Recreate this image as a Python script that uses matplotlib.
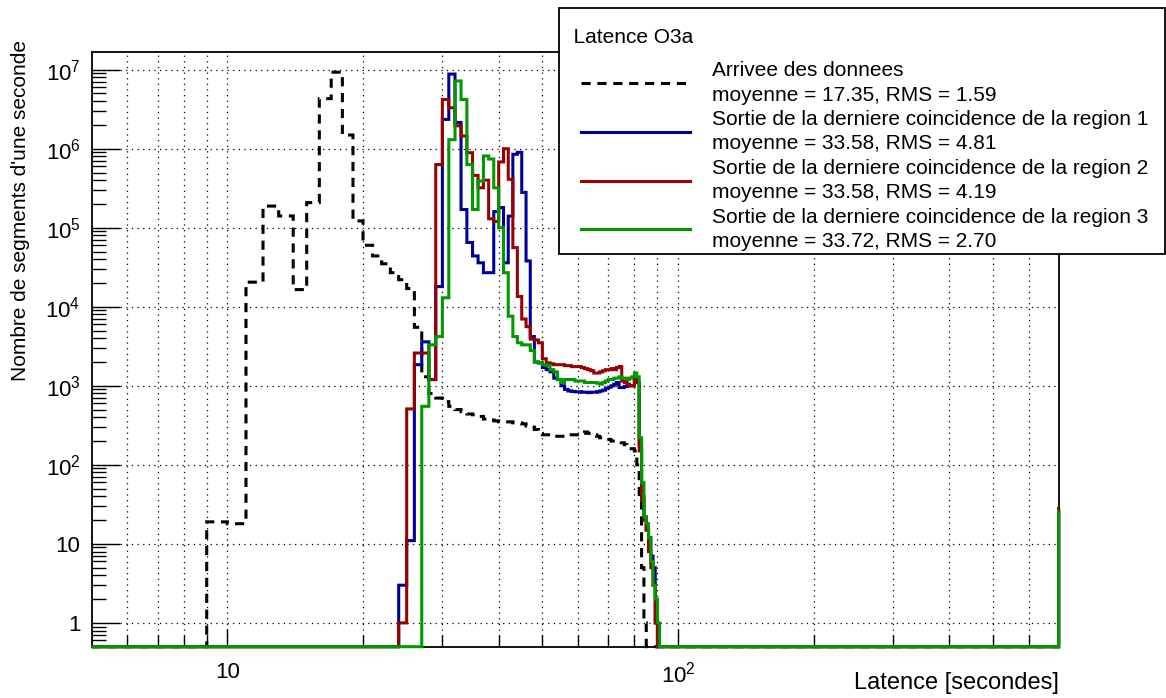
"""
Latence O3a : histogrammes de latence (log-log), style ROOT
"""

import numpy as np
import matplotlib.pyplot as plt
from matplotlib.lines import Line2D
from matplotlib.legend_handler import HandlerLine2D
from matplotlib.ticker import FixedLocator, FuncFormatter, NullFormatter

plt.rcParams['font.family'] = ['Liberation Sans', 'DejaVu Sans']
plt.rcParams['mathtext.fontset'] = 'custom'
plt.rcParams['mathtext.rm'] = 'Liberation Sans'
plt.rcParams['mathtext.it'] = 'Liberation Sans:italic'

# binning: 1 s bins, axis from 5 s to 700 s
x_min, x_max = 5, 700
y_min, y_max = 0.5, 1.66e7

# counts per 1 s bin, starting at the given lower edge
arrivee_start = 9
arrivee = [19, 18, 2.05e4, 1.88e5, 1.41e5, 1.65e4, 2.08e5, 4.3e6, 9.3e6, 1.49e6,
           1.22e5, 6.0e4, 4.4e4, 3.5e4, 2.7e4, 2.2e4, 1.7e4, 5.5e3, 1.3e3, 800,
           700, 630, 550, 500, 470, 440, 430, 410, 380, 370,
           360, 350, 350, 350, 340, 340, 330, 310, 300, 280,
           250, 240, 240, 230, 230, 230, 230, 230, 240, 240,
           240, 240, 250, 260, 250, 240, 240, 230, 220, 220,
           210, 210, 200, 200, 190, 190, 190, 180, 170, 160,
           160, 150, 100, 40, 5, 1]

region1_start = 24
region1 = [3, 11, 1.85e3, 3.6e3, 1.2e3, 1.8e4, 2.35e6, 8.8e6, 2.15e6, 1.7e5,
           6.5e4, 4.4e4, 3.6e4, 2.7e4, 2.7e4, 1.6e5, 1.8e5, 3.6e4, 1.4e5, 8.5e5,
           9.0e5, 2.8e5, 3.8e4, 4.2e3, 2.0e3, 1.95e3, 1.7e3, 1.6e3, 1.5e3, 1.25e3,
           1.2e3, 1.0e3, 900, 860, 850, 840, 840, 830, 830, 820,
           830, 830, 840, 860, 880, 920, 960, 1.0e3, 1.05e3, 1.1e3,
           950, 950, 980, 1.0e3, 1.0e3, 1.0e3, 1.25e3, 1.1e3, 180, 40,
           22, 15, 12, 7, 5, 1]

region2_start = 24
region2 = [1, 510, 2.6e3, 2.6e3, 1.2e3, 6.3e5, 4.2e6, 3.3e6, 1.95e6, 1.45e6,
           8.9e5, 4.6e5, 3.2e5, 4.0e5, 1.3e5, 1.2e5, 6.8e5, 1.0e6, 4.1e5, 5.6e4,
           1.35e4, 7.0e3, 5.6e3, 3.9e3, 3.8e3, 3.5e3, 2.2e3, 1.95e3, 1.9e3, 1.85e3,
           1.85e3, 1.85e3, 1.8e3, 1.8e3, 1.75e3, 1.75e3, 1.75e3, 1.7e3, 1.65e3, 1.6e3,
           1.55e3, 1.45e3, 1.45e3, 1.5e3, 1.55e3, 1.6e3, 1.6e3, 1.65e3, 1.6e3, 1.7e3,
           1.75e3, 1.15e3, 1.1e3, 1.05e3, 1.0e3, 1.0e3, 1.2e3, 1.1e3, 150, 35,
           20, 15, 8, 5, 3, 1]

region3_start = 27
region3 = [550, 3.3e3, 4.2e3, 1.3e4, 1.3e6, 7.2e6, 4.2e6, 6.3e5, 1.7e5, 3.9e5,
           8.1e5, 7.4e5, 3.2e5, 1.0e5, 2.7e4, 7.6e3, 4.2e3, 3.5e3, 3.3e3, 3.3e3,
           2.8e3, 2.0e3, 1.95e3, 1.85e3, 1.8e3, 1.6e3, 1.5e3, 1.2e3, 1.1e3, 1.2e3,
           1.2e3, 1.2e3, 1.15e3, 1.15e3, 1.15e3, 1.1e3, 1.1e3, 1.1e3, 1.1e3, 1.08e3,
           1.05e3, 1.1e3, 1.15e3, 1.2e3, 1.2e3, 1.25e3, 1.25e3, 1.3e3, 1.25e3, 1.25e3,
           1.2e3, 1.25e3, 1.3e3, 1.45e3, 1.3e3, 220, 60, 22, 18, 12,
           6, 3, 2, 1]

# last bin [699, 700] (latencies piled up at the end of the range)
region1_last = 28
region2_last = 28
region3_last = 26

labels = [
    "Arrivee des donnees\nmoyenne = 17.35, RMS = 1.59",
    "Sortie de la derniere coincidence de la region 1\nmoyenne = 33.58, RMS = 4.81",
    "Sortie de la derniere coincidence de la region 2\nmoyenne = 33.58, RMS = 4.19",
    "Sortie de la derniere coincidence de la region 3\nmoyenne = 33.72, RMS = 2.70",
]
colors = ['black', '#000099', '#990000', '#009900']

x_major = [10, 100]
x_minor = [6, 7, 8, 9, 20, 30, 40, 50, 60, 70, 80, 90, 200, 300, 400, 500, 600]
y_major = [10.0 ** k for k in range(0, 8)]
y_minor = [m * 10.0 ** k for k in range(-1, 7) for m in range(2, 10)]


def full_counts(start, values, last=0):
    counts = np.zeros(x_max - x_min)
    i0 = start - x_min
    counts[i0:i0 + len(values)] = values
    counts[-1] = max(counts[-1], last)
    return counts


edges = np.arange(x_min, x_max + 1)
series = [
    full_counts(arrivee_start, arrivee),
    full_counts(region1_start, region1, region1_last),
    full_counts(region2_start, region2, region2_last),
    full_counts(region3_start, region3, region3_last),
]

fig = plt.figure(figsize=(11.66, 6.98), dpi=100)
ax = fig.add_axes([0.0786, 0.0735, 0.8296, 0.8516])

dash = (0, (3, 2.2))
for i, (counts, color) in enumerate(zip(series, colors)):
    # empty bins are drawn on the lower edge of the frame, like ROOT does
    vals = np.maximum(counts, y_min)
    ax.stairs(vals, edges, baseline=None, color=color, linewidth=2.2,
              linestyle=dash if i == 0 else '-', clip_on=False, zorder=3 + i)

ax.set_xscale('log')
ax.set_yscale('log')
ax.set_xlim(x_min, x_max)
ax.set_ylim(y_min, y_max)


def pow_fmt(v, pos):
    e = int(round(np.log10(v)))
    if e == 0:
        return '1'
    if e == 1:
        return '10'
    return r'$10^{%d}$' % e


ax.xaxis.set_major_locator(FixedLocator(x_major))
ax.xaxis.set_minor_locator(FixedLocator(x_minor))
ax.yaxis.set_major_locator(FixedLocator(y_major))
ax.yaxis.set_minor_locator(FixedLocator([v for v in y_minor if y_min < v < y_max]))
for axis in (ax.xaxis, ax.yaxis):
    axis.set_major_formatter(FuncFormatter(pow_fmt))
    axis.set_minor_formatter(NullFormatter())

ax.tick_params(which='both', direction='in', top=False, right=False, colors='black')
ax.tick_params(axis='x', which='major', length=13, width=1, labelsize=16, pad=11)
ax.tick_params(axis='x', which='minor', length=8.5, width=1)
ax.tick_params(axis='y', which='major', length=20, width=1, labelsize=16, pad=8)
ax.tick_params(axis='y', which='minor', length=10, width=1)

ax.set_axisbelow(True)
ax.grid(True, axis='x', which='both', color='black', linestyle=(0, (1, 3.5)), linewidth=0.9)
ax.grid(True, axis='y', which='major', color='black', linestyle=(0, (1, 3.5)), linewidth=0.9)

for sp in ax.spines.values():
    sp.set_linewidth(1.3)

ax.set_xlabel("Latence [secondes]", fontsize=17, loc='right')
ax.xaxis.set_label_coords(1.0, -0.042)
ax.set_ylabel("Nombre de segments d'une seconde", fontsize=15, loc='top')
ax.yaxis.set_label_coords(-0.064, 1.02)

handles = [Line2D([], [], color=colors[0], linewidth=2.2, linestyle=dash)]
handles += [Line2D([], [], color=c, linewidth=2.2) for c in colors[1:]]
leg = fig.legend(handles, labels, title="\n  Latence O3a", loc='upper left',
                 bbox_to_anchor=(0.479, 0.0, 0.52, 0.988), mode='expand',
                 borderaxespad=0, fontsize=15, title_fontsize=15,
                 alignment='left', handlelength=6.15, handletextpad=1.08,
                 labelspacing=0.26, borderpad=0.15, fancybox=False,
                 framealpha=1, edgecolor='black',
                 handler_map={Line2D: HandlerLine2D(xpad=0.93)})
leg.get_frame().set_linewidth(1.3)
leg.get_title().set_linespacing(0.85)
leg._legend_box.sep = 10
for t in leg.get_texts():
    t.set_linespacing(1.36)

fig.savefig('out.png', dpi=100)
